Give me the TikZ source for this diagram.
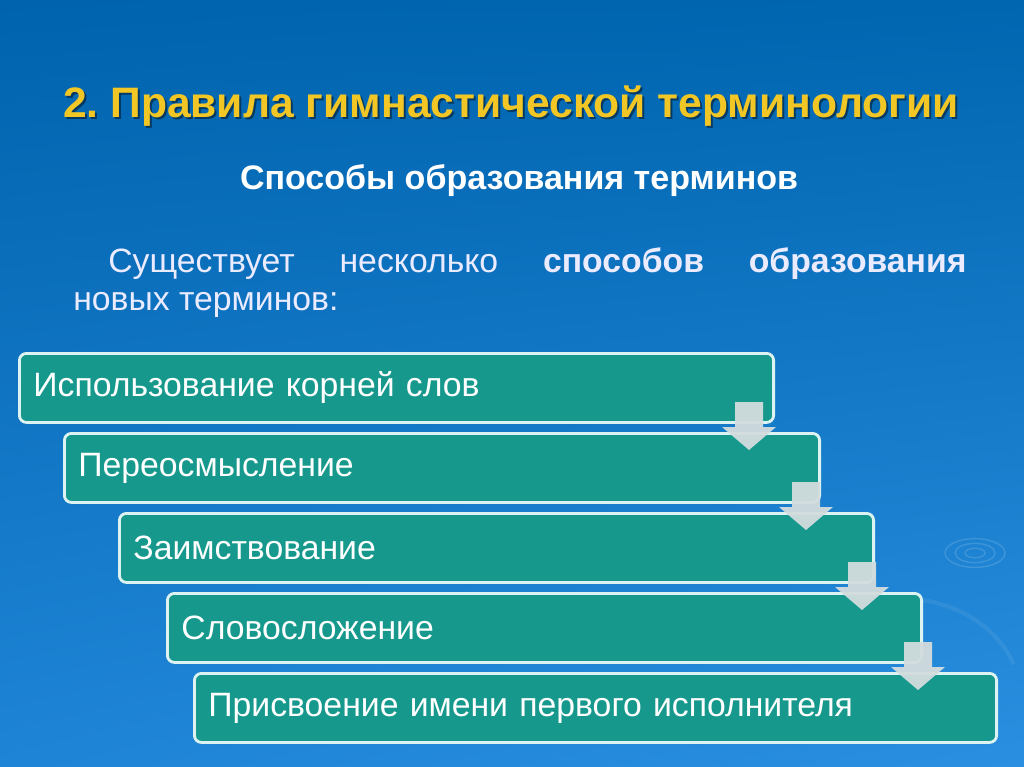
\documentclass[tikz,border=0pt]{standalone}
\usepackage{fontspec}
\setmainfont{Liberation Sans}
\usepackage{tikz}
\usetikzlibrary{positioning, calc, shadings}
\frenchspacing

\definecolor{bgtopl}{HTML}{0063AD}
\definecolor{bgtopr}{HTML}{0066B0}
\definecolor{bgbotl}{HTML}{1E84D6}
\definecolor{bgbotr}{HTML}{2A8FE0}
\definecolor{titleyellow}{HTML}{F2C624}
\definecolor{boxteal}{HTML}{16998C}
\definecolor{boxedge}{HTML}{DDF3F1}
\definecolor{arrowgrey}{HTML}{D3DCDE}

% block arrow pointing down, tip at #1
\newcommand{\stepdownarrow}[1]{%
  \fill[arrowgrey, opacity=0.95] (#1) -- ++(27,-23) -- ++(-13,0) -- ++(0,-25)
    -- ++(-28,0) -- ++(0,25) -- ++(-13,0) -- cycle;}

\begin{document}
\begin{tikzpicture}[
    x=0.025cm, y=-0.025cm,
    every node/.style={font=\fontsize{24}{27}\selectfont},
    stepbox/.style={rectangle, rounded corners=5pt, anchor=north west,
                    fill=boxteal, draw=boxedge, line width=2pt,
                    minimum height=1.725cm, inner xsep=0.35cm,
                    align=left, text=white},
]

% background
\shade[upper left=bgtopl, upper right=bgtopr, lower left=bgbotl, lower right=bgbotr]
  (0,0) rectangle (1024,767);
\useasboundingbox (0,0) rectangle (1024,767);

% ripples
\foreach \r in {10,20,30}
  \draw[white, opacity=0.14, line width=1pt] (975,553) ellipse ({\r*0.025cm} and {\r*0.012cm});
\draw[white, opacity=0.07, line width=3pt] (880,600) arc[start angle=100, end angle=20, x radius=3cm, y radius=2.5cm];

% headings
\node[text=black, opacity=0.45, anchor=base, font=\fontsize{30.3}{34}\selectfont\bfseries]
  (titleshadow) at (513,120) {2. Правила гимнастической терминологии};
\node[text=titleyellow, anchor=base, font=\fontsize{30.3}{34}\selectfont\bfseries]
  (title) at (511,118) {2. Правила гимнастической терминологии};
\node[text=white, anchor=base, font=\fontsize{24.2}{28}\selectfont\bfseries]
  (subtitle) at (519,190) {Способы образования терминов};
\node[text=white!92!blue, anchor=north west, inner sep=0pt, text width=22.325cm,
      align=justify, font=\fontsize{24}{27}\selectfont] (intro) at (73,247)
  {\hspace*{0.875cm}Существует несколько \textbf{способов образования}\linebreak новых терминов:};

% method boxes
\node[stepbox, text width=18.15cm] (roots)   at (18,352)  {Использование корней слов};
\node[stepbox, text width=18.175cm] (rethink) at (63,432)  {Переосмысление};
\node[stepbox, text width=18.15cm] (borrow)  at (118,512) {Заимствование};
\node[stepbox, text width=18.15cm] (compound) at (166,592) {Словосложение};
\node[stepbox, text width=19.35cm] (naming)  at (193,672) {Присвоение имени первого исполнителя};

% arrows between boxes
\coordinate (a1) at (749,450);
\coordinate (a2) at (806,530);
\coordinate (a3) at (862,610);
\coordinate (a4) at (918,690);
\stepdownarrow{a1}
\stepdownarrow{a2}
\stepdownarrow{a3}
\stepdownarrow{a4}

\end{tikzpicture}
\end{document}
